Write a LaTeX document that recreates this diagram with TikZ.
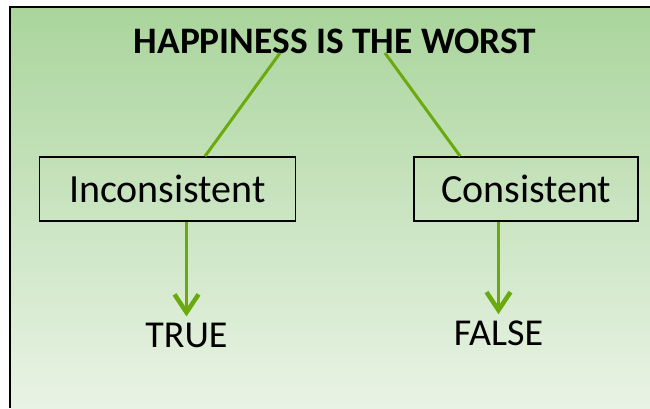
\documentclass[tikz,border=0pt]{standalone}
\usepackage{xcolor}
\usepackage{fontspec}
\setmainfont{Carlito}
\usetikzlibrary{arrows.meta,calc}
\definecolor{linegreen}{RGB}{106,170,14}
\definecolor{bgtop}{RGB}{170,213,156}
\definecolor{bgbottom}{RGB}{233,243,229}
\tikzset{
	claimbox/.style={draw, line width=1.5pt, minimum height=64pt, font=\fontsize{40}{48}\selectfont},
	verdict/.style={anchor=base, inner sep=6pt, font=\fontsize{38}{44}\selectfont},
	link/.style={draw=linegreen, line width=3pt},
	implies/.style={link, -{Straight Barb[length=18pt,width=24pt,line width=4.5pt]}}
}

\begin{document}
\begin{tikzpicture}[x=1pt,y=-1pt]
        \useasboundingbox (0,0) rectangle (650,408);
        \fill[top color=bgtop, bottom color=bgbottom] (11,7.5) rectangle (650,408);
        \draw[line width=2pt] (10,408) -- (10,6.5) -- (650,6.5);
        
        \node[anchor=base, font=\bfseries\fontsize{37.4}{42}\selectfont] (title) at (335,53) {HAPPINESS IS THE WORST};
        \node[claimbox, minimum width=256pt] (inc) at (167.5,189) {Inconsistent};
        \node[claimbox, minimum width=224pt] (con) at (526.2,189) {Consistent};
        \node[verdict] (true) at (186.5,347) {TRUE};
        \node[verdict] (false) at (498.5,345) {FALSE};
        
        \draw[link] ([xshift=-55pt]title.base) -- ([xshift=37.5pt]inc.north);
        \draw[link] ([xshift=50pt]title.base) -- ([xshift=-66pt]con.north);
        \draw[implies] (inc.south -| true.north) -- (true.north);
        \draw[implies] (con.south -| false.north) -- (false.north);
    \end{tikzpicture}
\end{document}
